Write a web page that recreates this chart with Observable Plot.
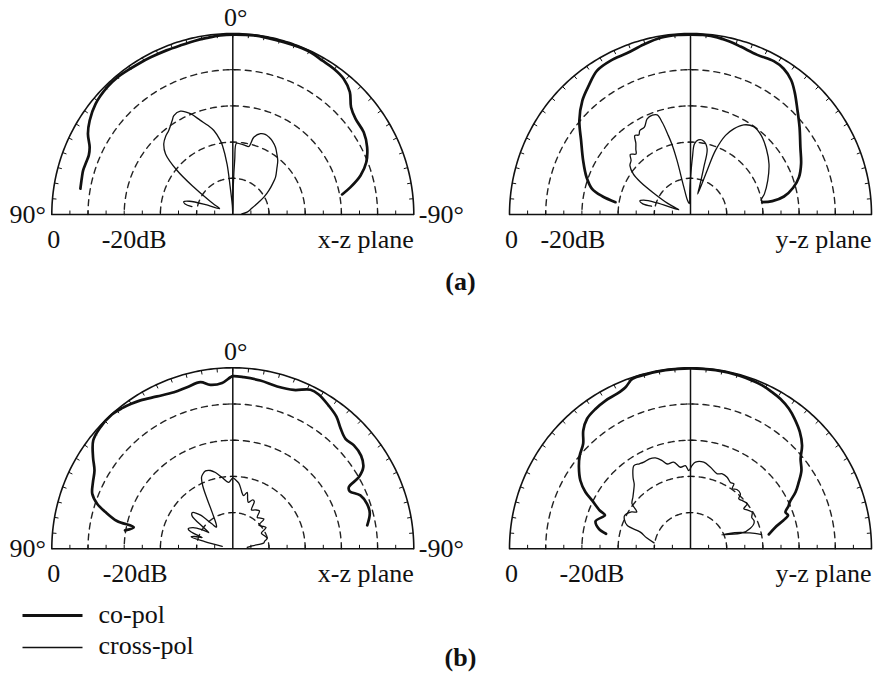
<!DOCTYPE html>
<html>
<head>
<meta charset="utf-8">
<script src="https://cdn.jsdelivr.net/npm/d3@7"></script>
<script src="https://cdn.jsdelivr.net/npm/@observablehq/plot@0.6"></script>
<style>
  html, body { margin: 0; padding: 0; background: #fff; }
</style>
</head>
<body>
<div id="chart"></div>
<script>
// Radiation patterns, [angle in degrees (90 = left horizon, -90 = right horizon), level in dB]

// (a) x-z plane
const coXZa = [[80.4,-7.3],[76.5,-7.1],[73.6,-6.9],[70.5,-7.0],[67.7,-7.0],[64.8,-6.3],[60.9,-4.2],[56.7,-2.7],[51.1,-1.3],[44.6,-0.6],[40,-0.5],[36.3,-0.7],[31.5,-0.9],[27.6,-1.0],[22,-1.1],[17.2,-1.1],[12.5,-0.9],[8.3,-0.7],[4,-0.4],[0,-0.3],[-6.7,-0.2],[-11,-0.3],[-16.5,-0.35],[-21,-0.3],[-25.6,-0.3],[-30.1,-0.8],[-34.7,-1.0],[-39.3,-1.6],[-43.7,-3.2],[-47.8,-5.9],[-52,-7.0],[-57.9,-7.3],[-63.4,-8.5],[-68.6,-10.4],[-73,-13.1],[-76.9,-16.6],[-79.6,-19.3]];
const crossXZa = [[79,-38.5],[77.5,-36.5],[75.5,-36],[73,-37.5],[70,-42],[66,-46],[62,-44.5],[58.6,-41.7],[55,-36.8],[51.7,-30.4],[48,-25],[44.3,-22.7],[40.5,-21.5],[37.3,-20.8],[32.8,-19.1],[30.8,-18.2],[26.9,-18.0],[22.8,-19.8],[19,-22.5],[15.5,-24.5],[12.7,-26.2],[9.5,-29.3],[8.5,-30.8],[6.5,-36],[5.5,-42],[3,-47.5],[0,-50],[-1,-42],[-2,-35],[-2.9,-30.3],[-6,-30.4],[-10,-30.6],[-13.2,-30.7],[-15.2,-27.9],[-18.9,-26.4],[-22,-26.1],[-25,-26.4],[-28.5,-27],[-32.4,-28],[-36,-29.3],[-39.8,-30.6],[-44,-32.5],[-48.8,-34.3],[-52.5,-36.2],[-56.3,-38],[-60.5,-40],[-64.6,-42.1],[-72,-44.5],[-80.8,-46],[-86,-47.5]];

// (a) y-z plane
const coYZa = [[80.7,-29],[78.3,-25.1],[75.4,-21.9],[70.3,-19.5],[63.3,-16.8],[55.9,-13.5],[49.8,-9.8],[43.5,-6.6],[38.2,-4.6],[33,-2.6],[27.4,-2.1],[21.4,-2.1],[15.4,-1.3],[9.6,-0.5],[4,-0.3],[0,-0.3],[-4,-0.3],[-8.6,-0.5],[-12.5,-1.0],[-16.6,-1.6],[-22.7,-2.2],[-28.5,-1.8],[-32.6,-2.2],[-36.8,-3.6],[-40.4,-5.6],[-45.3,-8.5],[-51.3,-11.4],[-58.5,-14.4],[-65.4,-16.4],[-71,-18.3],[-75.4,-20.7],[-79.1,-23.7],[-80.7,-27.1],[-80.2,-29.9]];
const crossYZa = [[78,-39],[77.5,-36.5],[75,-35.5],[73,-36.5],[71,-40],[68,-46.5],[64,-43],[60,-38.5],[57,-33.5],[54.6,-30.6],[51.1,-28.5],[47.7,-27.8],[45,-26.5],[42,-27.5],[40,-26.5],[37.5,-25.2],[35.2,-23.3],[33,-23.8],[31.1,-22.9],[27.8,-22.7],[24.4,-21],[21,-20.6],[18.5,-21],[17,-23.5],[15.8,-27],[14.8,-30],[14,-34.6],[13.7,-42],[12,-46],[6,-47],[2,-44],[0,-40],[-2,-34],[-3.2,-30.5],[-6,-29.3],[-10.3,-29.4],[-14.2,-31.3],[-15.7,-36.4],[-18,-42],[-19.5,-44],[-20.7,-37],[-21.3,-31],[-23.9,-26.1],[-26.8,-23.5],[-30.7,-21.2],[-35.7,-20.1],[-41.8,-20.7],[-49.2,-22.3],[-57.2,-24.2],[-66.3,-26.7],[-74.4,-28.8],[-78.8,-30.1],[-80.7,-29]];

// (b) x-z plane
const coXZb = [[80.3,-19.8],[77.7,-22],[76.5,-17.1],[73.9,-13.4],[71.6,-10.5],[68.6,-8.3],[64.5,-7.2],[60.5,-6.1],[56.7,-3.8],[52.2,-1.2],[48,-0.4],[42,-0.1],[38,-0.6],[35,-1.1],[31.9,-1.7],[26.4,-3],[20.6,-3.8],[15.8,-3.6],[11,-3.1],[7.8,-4.3],[3.7,-4.1],[0.8,-2.6],[0,-2.3],[-3.7,-2.5],[-9.3,-2.9],[-15.3,-3.5],[-21,-3],[-26,-1.1],[-29.1,-1.2],[-33.8,-2.4],[-38.1,-3.6],[-41.7,-5.3],[-45.7,-6.5],[-49.5,-6],[-54,-6.2],[-58,-7.5],[-60.4,-10],[-62,-13.7],[-63.8,-14],[-67.3,-11.8],[-71.5,-10.9],[-75.4,-10.9],[-80.1,-12.3]];
const crossXZb = [[77,-47],[75.5,-42],[74,-38],[72,-39],[70,-41],[68,-37.5],[66,-36.5],[62,-37.5],[58,-40],[56,-42],[54,-40],[51,-35.5],[48,-35],[44,-37],[40,-41],[37,-42.5],[34,-41.8],[29.6,-38.5],[27.3,-34.6],[25.5,-30.7],[23.7,-28.5],[22,-27.8],[19.3,-27.2],[16,-27.5],[12.8,-28.4],[8.5,-30.1],[3.5,-31.6],[0,-30.4],[-2.5,-31],[-5.2,-31.8],[-8,-33.5],[-9.5,-34.4],[-11.5,-35],[-14.3,-33.9],[-16.5,-35.6],[-18.5,-36.5],[-22,-35.4],[-24.4,-35.6],[-25.6,-38.1],[-30,-37.6],[-35.1,-37.2],[-37.8,-39],[-42,-38.6],[-46.3,-38.1],[-47.7,-40.3],[-52,-39.8],[-57.4,-39.1],[-61.3,-41],[-67,-40.6],[-73.2,-40.1],[-77,-41],[-79.6,-41.3],[-81.2,-44.6],[-84,-46]];

// (b) y-z plane
const coYZb = [[79.9,-26.3],[77.7,-24.1],[73.8,-22.7],[68.5,-24.6],[67.1,-22.8],[63.8,-19.7],[61.6,-17],[58.2,-14.2],[53.8,-11.8],[49.9,-10],[45.6,-8.5],[42.2,-5.9],[38.5,-4.1],[34.2,-3.3],[29.8,-2.8],[25.3,-2.6],[21.9,-1.9],[18.9,-0.4],[14,-0.3],[8,-0.2],[0,-0.2],[-8,-0.2],[-14,-0.3],[-18,-0.4],[-23.7,-0.7],[-27.5,-1.2],[-31,-1.7],[-35.1,-2.7],[-38.7,-4],[-43.1,-5.8],[-47.2,-8],[-50.7,-10.7],[-54.8,-12.5],[-58.4,-14.9],[-61.6,-17],[-64.8,-19.7],[-66.5,-20.5],[-68.9,-21.9],[-71,-21.5],[-73,-23.2],[-75.7,-25.8],[-79.6,-28]];
const crossYZb = [[80.7,-39.8],[76,-37.5],[71.6,-35.4],[69.8,-31.4],[66,-30],[63.2,-29.6],[58,-30.8],[55.5,-32],[52.4,-29.6],[48,-28.6],[44.2,-27.5],[41,-26.3],[38.7,-24.6],[34.2,-22.2],[31,-22.6],[28.3,-22.8],[24.5,-22.7],[21.1,-23.1],[18,-24.3],[15.4,-25.7],[11,-25.6],[7,-27.3],[3.5,-27],[1.2,-28.4],[-1,-27],[-3.3,-26],[-8.7,-25.8],[-13.8,-26.8],[-19.6,-28],[-23,-27.5],[-27.1,-27.8],[-31,-28.6],[-33.7,-28.4],[-34.8,-29.8],[-38,-29.2],[-42.3,-29.5],[-44,-30.8],[-47.5,-30.4],[-51.5,-30],[-53.1,-31.6],[-56,-30.9],[-59.3,-30.2],[-63,-31],[-66,-30.8],[-68.5,-31.2],[-71,-32.5],[-73,-35],[-68,-39.5],[-66,-40.5],[-70,-37],[-75,-33],[-78.7,-30]];

// Grid and labels
const dbMin = -50;                        // level at the centre of each plot
const ringLevels = [-10, -20, -30, -40];
const rimAngles = d3.range(-85, 90, 5);   // small ticks on the 0 dB rim
const baseSteps = d3.range(5, 50, 5);     // ticks along the horizon line, dB from centre
const dbLabel = "-20dB";
const dbLabelLevel = -20;
const legendLabels = ["co-pol", "cross-pol"];
const captions = ["(a)", "(b)"];

// Layout: one scale unit = one dB of radius
const W = 874, H = 684;
const k = 181 / 50;                       // pixels per dB
const U = (px) => px / k;
const V = (py) => (H - py) / k;

const panels = [
  {id: "a-xz", ox: U(232.3), oy: V(214),   plane: "x-z plane", co: coXZa, cross: crossXZa, angles: true,  dbShift: 10},
  {id: "a-yz", ox: U(690),   oy: V(214),   plane: "y-z plane", co: coYZa, cross: crossYZa, angles: false, dbShift: -9},
  {id: "b-xz", ox: U(232.3), oy: V(548.3), plane: "x-z plane", co: coXZb, cross: crossXZb, angles: true,  dbShift: 11},
  {id: "b-yz", ox: U(690),   oy: V(548.3), plane: "y-z plane", co: coYZb, cross: crossYZb, angles: false, dbShift: 10}
];

const rad = Math.PI / 180;
const px = (p, deg, db) => p.ox - (db - dbMin) * Math.sin(deg * rad);
const py = (p, deg, db) => p.oy + (db - dbMin) * Math.cos(deg * rad);

// flatten traces
const traces = panels.flatMap(p => [
  ...p.co.map(([t, v], i) => ({p, kind: "co", t, v, i})),
  ...p.cross.map(([t, v], i) => ({p, kind: "cross", t, v, i}))
]);

const arcDeg = d3.range(-90, 90.5, 1);
const rim = panels.flatMap(p => arcDeg.map(t => ({p, t, v: 0})));
const rings = panels.flatMap(p => ringLevels.flatMap(level => arcDeg.map(t => ({p, t, v: level, key: p.id + level}))));
const rimTicks = panels.flatMap(p => rimAngles.map(t => ({p, t})));
const baseTicks = panels.flatMap(p => baseSteps.flatMap(s => [{p, s: -s}, {p, s}]));
const axisTicks = panels.flatMap(p => ringLevels.map(level => ({p, r: level - dbMin})));

const font = "'Liberation Serif', 'Times New Roman', serif";
const ink = "#111";
const fs = 26;

const chart = Plot.plot({
  width: W,
  height: H,
  margin: 0,
  x: {domain: [0, W / k], axis: null},
  y: {domain: [0, H / k], axis: null},
  style: {fontFamily: font, background: "#fff", color: ink},
  marks: [
    // dashed level rings
    Plot.line(rings, {x: d => px(d.p, d.t, d.v), y: d => py(d.p, d.t, d.v), z: "key",
      stroke: "#222", strokeWidth: 1.4, strokeDasharray: "6,5"}),
    // 0 dB rim
    Plot.line(rim, {x: d => px(d.p, d.t, d.v), y: d => py(d.p, d.t, d.v), z: d => d.p.id,
      stroke: ink, strokeWidth: 1.6}),
    // rim ticks every 5 degrees
    Plot.link(rimTicks, {
      x1: d => px(d.p, d.t, 0), y1: d => py(d.p, d.t, 0),
      x2: d => px(d.p, d.t, -1.1), y2: d => py(d.p, d.t, -1.1),
      stroke: ink, strokeWidth: 1}),
    // horizon line
    Plot.link(panels, {x1: p => p.ox + dbMin, y1: "oy", x2: p => p.ox - dbMin, y2: "oy", stroke: ink, strokeWidth: 1.6}),
    // ticks along the horizon line
    Plot.link(baseTicks, {x1: d => d.p.ox + d.s, y1: d => d.p.oy, x2: d => d.p.ox + d.s, y2: d => d.p.oy + 1.1,
      stroke: ink, strokeWidth: 1}),
    // boresight line
    Plot.link(panels, {x1: "ox", y1: "oy", x2: "ox", y2: p => p.oy - dbMin, stroke: ink, strokeWidth: 1.5}),
    Plot.link(axisTicks, {x1: d => d.p.ox - 0.8, y1: d => d.p.oy + d.r, x2: d => d.p.ox + 0.8, y2: d => d.p.oy + d.r,
      stroke: ink, strokeWidth: 1}),
    // cross-polar patterns
    Plot.line(traces.filter(d => d.kind === "cross"), {
      x: d => px(d.p, d.t, d.v), y: d => py(d.p, d.t, d.v), z: d => d.p.id,
      stroke: ink, strokeWidth: 1.3, curve: "catmull-rom"}),
    // co-polar patterns
    Plot.line(traces.filter(d => d.kind === "co"), {
      x: d => px(d.p, d.t, d.v), y: d => py(d.p, d.t, d.v), z: d => d.p.id,
      stroke: ink, strokeWidth: 2.7, curve: "catmull-rom"}),

    // labels under each plot
    Plot.text(panels, {x: p => p.ox + dbMin, y: "oy", text: () => "0", dx: 2, dy: 25,
      fontSize: fs, fill: ink, fontFamily: font}),
    Plot.text(panels, {x: p => p.ox - (dbLabelLevel - dbMin) + U(p.dbShift), y: "oy", text: () => dbLabel,
      dy: 25, fontSize: fs, fill: ink, fontFamily: font}),
    Plot.text(panels, {x: p => p.ox - dbMin, y: "oy", text: "plane", textAnchor: "end", dy: 25,
      fontSize: fs, fill: ink, fontFamily: font}),
    // angle labels
    Plot.text(panels.filter(p => p.angles), {x: p => p.ox + dbMin, y: "oy", text: () => "90°", textAnchor: "end", dx: -6,
      fontSize: fs, fill: ink, fontFamily: font}),
    Plot.text(panels.filter(p => p.angles), {x: p => p.ox - dbMin, y: "oy", text: () => "-90°", textAnchor: "start", dx: 5,
      fontSize: fs, fill: ink, fontFamily: font}),
    Plot.text(panels.filter(p => p.angles), {x: "ox", y: p => p.oy - dbMin, text: () => "0°", dx: 3, dy: -16,
      fontSize: fs, fill: ink, fontFamily: font}),

    // sub-figure captions
    Plot.text(captions, {x: () => U(460), y: (d, i) => V([280.7, 657.5][i]), text: d => d,
      fontSize: fs, fontWeight: "bold", fill: ink, fontFamily: font}),

    // legend
    Plot.link(legendLabels, {x1: () => U(22), x2: () => U(82), y1: (d, i) => V([615, 647][i]), y2: (d, i) => V([615, 647][i]),
      stroke: ink, strokeWidth: (d, i) => [2.8, 1.3][i]}),
    Plot.text(legendLabels, {x: () => U(98), y: (d, i) => V([613.7, 645][i]), text: d => d, textAnchor: "start",
      fontSize: fs, fill: ink, fontFamily: font})
  ]
});

document.getElementById("chart").append(chart);
</script>
</body>
</html>
